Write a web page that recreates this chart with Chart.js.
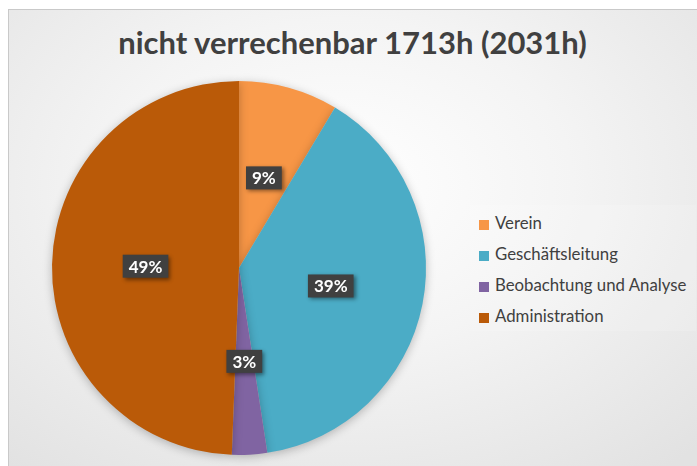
<!DOCTYPE html>
<html>
<head>
<meta charset="utf-8">
<script src="https://cdn.jsdelivr.net/npm/chart.js@4.4.1/dist/chart.umd.min.js"></script>
<style>
    html, body { margin: 0; padding: 0; background: #fff; }
    #frame {
        position: absolute; left: 8px; top: 9px; width: 689px; height: 457px;
        border-left: 1px solid #c9c9c9; border-top: 1px solid #c9c9c9;
        background: radial-gradient(ellipse 75% 80% at 48% 38%, #ffffff 0%, #f4f4f4 45%, #e2e2e2 100%);
    }
    #titel {
        position: absolute; left: 0; top: 23px; width: 705px; text-align: center;
        font: bold 31px Lato, "Liberation Sans", sans-serif; color: #404040;
    }
    #legende {
        position: absolute; left: 470px; top: 205px; width: 226px; height: 126px;
        background: rgba(255, 255, 255, 0.15);
    }
    .eintrag {
        position: absolute; left: 9px; height: 20px; line-height: 20px;
        font: 16.8px Lato, "Liberation Sans", sans-serif; color: #404040; white-space: nowrap;
    }
    .eintrag i { display: inline-block; width: 10px; height: 10px; margin-right: 6px; vertical-align: -1px; }
    canvas { position: absolute; left: 0; top: 0; }
</style>
</head>
<body>
<div id="frame"></div>
<div id="titel">nicht verrechenbar 1713h (2031h)</div>
<div id="legende"></div>
<canvas id="torte" width="697" height="466"></canvas>
<script>
    // Kategorien und Stunden (nicht verrechenbar, total 1713h)
    const kategorien = ['Verein', 'Geschäftsleitung', 'Beobachtung und Analyse', 'Administration'];
    const stunden = [147, 668, 52, 846];
    const farben = ['#F79646', '#4BACC6', '#8064A2', '#BA5A08'];

    // Legende als HTML aufbauen
    const legende = document.getElementById('legende');
    kategorien.forEach((name, i) => {
        const div = document.createElement('div');
        div.className = 'eintrag';
        div.style.top = (7 + i * 31) + 'px';
        div.innerHTML = `<i style="background:${farben[i]}"></i>${name}`;
        legende.appendChild(div);
    });

    // Schatten hinter der Torte
    const schattenPlugin = {
        id: 'schatten',
        beforeDatasetsDraw(chart) {
            const ctx = chart.ctx;
            ctx.save();
            ctx.shadowColor = 'rgba(0,0,0,0.25)';
            ctx.shadowBlur = 10;
            ctx.shadowOffsetY = 2;
        },
        afterDatasetsDraw(chart) {
            chart.ctx.restore();
        }
    };

    // Prozent-Beschriftung in dunklen Kästchen
    const etikettPlugin = {
        id: 'etiketten',
        afterDatasetsDraw(chart) {
            const ctx = chart.ctx;
            const summe = stunden.reduce((a, b) => a + b, 0);
            const meta = chart.getDatasetMeta(0);
            ctx.save();
            ctx.font = 'bold 17px Lato, "Liberation Sans", sans-serif';
            ctx.textAlign = 'center';
            ctx.textBaseline = 'middle';
            meta.data.forEach((bogen, i) => {
                const { x, y, startAngle, endAngle, outerRadius } = bogen.getProps(['x', 'y', 'startAngle', 'endAngle', 'outerRadius'], true);
                const mitte = (startAngle + endAngle) / 2;
                const px = x + Math.cos(mitte) * outerRadius * 0.5;
                const py = y + Math.sin(mitte) * outerRadius * 0.5;
                const text = Math.round(stunden[i] / summe * 100) + '%';
                const b = ctx.measureText(text).width + 12;
                const h = 23;
                ctx.shadowColor = 'rgba(0,0,0,0.45)';
                ctx.shadowBlur = 4;
                ctx.shadowOffsetX = 2;
                ctx.shadowOffsetY = 2;
                ctx.fillStyle = '#404040';
                ctx.fillRect(px - b / 2, py - h / 2, b, h);
                ctx.shadowColor = 'transparent';
                ctx.fillStyle = '#ffffff';
                ctx.fillText(text, px, py + 1);
            });
            ctx.restore();
        }
    };

    new Chart(document.getElementById('torte'), {
        type: 'pie',
        data: {
            labels: kategorien,
            datasets: [{
                data: stunden,
                backgroundColor: farben,
                borderWidth: 0
            }]
        },
        options: {
            responsive: false,
            animation: false,
            layout: { padding: { left: 52, right: 271, top: 81, bottom: 11 } },
            plugins: {
                legend: { display: false },
                tooltip: { enabled: false }
            }
        },
        plugins: [schattenPlugin, etikettPlugin]
    });
</script>
</body>
</html>
